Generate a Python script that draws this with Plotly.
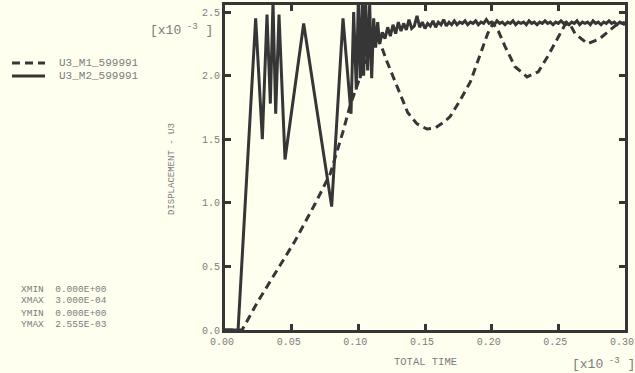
import plotly.graph_objects as go

# ---- data (units: x10^-3) ----
m1_time = [0.000, 0.0128, 0.025, 0.0375, 0.0525, 0.0675, 0.079, 0.0885, 0.094, 0.100,
           0.106, 0.111, 0.114, 0.117, 0.1215, 0.1275, 0.1335, 0.137, 0.144, 0.1515,
           0.158, 0.165, 0.169, 0.176, 0.184, 0.191, 0.197, 0.201, 0.205, 0.210,
           0.2175, 0.2265, 0.235, 0.242, 0.250, 0.255, 0.2585, 0.2625, 0.272, 0.281,
           0.289, 0.296, 0.300]
m1_disp = [0.00, 0.00, 0.23, 0.44, 0.70, 0.99, 1.23, 1.56, 1.77, 1.95,
           2.12, 2.25, 2.29, 2.24, 2.11, 1.95, 1.80, 1.71, 1.62, 1.58,
           1.59, 1.64, 1.68, 1.80, 1.95, 2.15, 2.33, 2.41, 2.35, 2.23,
           2.07, 1.99, 2.03, 2.15, 2.30, 2.40, 2.41, 2.33, 2.25, 2.29,
           2.36, 2.42, 2.40]

m2_time = [0.000, 0.0098, 0.023, 0.028, 0.0315, 0.034, 0.036, 0.038, 0.0405, 0.045,
           0.059, 0.080, 0.0885, 0.0945, 0.0965, 0.0985, 0.100, 0.1015, 0.103, 0.104,
           0.1055, 0.107, 0.1085, 0.110, 0.1115, 0.113, 0.1145,
           0.116, 0.118, 0.120, 0.122, 0.124, 0.126, 0.128, 0.130, 0.132, 0.134,
           0.136, 0.138, 0.140, 0.142, 0.144, 0.146, 0.148, 0.150, 0.152, 0.154,
           0.156, 0.158, 0.160, 0.162, 0.164, 0.166, 0.168, 0.170, 0.172, 0.174,
           0.176, 0.178, 0.180, 0.182, 0.184, 0.186, 0.188, 0.190, 0.192, 0.194,
           0.196, 0.198, 0.200, 0.202, 0.204, 0.206, 0.208, 0.210, 0.212, 0.214,
           0.216, 0.218, 0.220, 0.222, 0.224, 0.226, 0.228, 0.230, 0.232, 0.234,
           0.236, 0.238, 0.240, 0.242, 0.244, 0.246, 0.248, 0.250, 0.252, 0.254,
           0.256, 0.258, 0.260, 0.262, 0.264, 0.266, 0.268, 0.270, 0.272, 0.274,
           0.276, 0.278, 0.280, 0.282, 0.284, 0.286, 0.288, 0.290, 0.292, 0.294,
           0.296, 0.298, 0.300]
m2_disp = [0.00, 0.00, 2.45, 1.50, 2.48, 1.78, 2.58, 1.70, 2.48, 1.34,
           2.41, 0.97, 2.45, 1.70, 2.50, 1.89, 2.60, 1.98, 2.60, 2.00,
           2.60, 2.04, 2.57, 1.98, 2.45, 2.22, 2.42,
           2.25, 2.34, 2.29, 2.38, 2.31, 2.40, 2.33, 2.42, 2.35, 2.41,
           2.36, 2.44, 2.37, 2.39, 2.47, 2.38, 2.42, 2.37, 2.41, 2.39,
           2.43, 2.38, 2.42, 2.40, 2.44, 2.39, 2.42, 2.40, 2.43, 2.40,
           2.42, 2.41, 2.43, 2.40, 2.42, 2.41, 2.43, 2.40, 2.42, 2.41,
           2.44, 2.41, 2.42, 2.40, 2.43, 2.41, 2.42, 2.40, 2.42, 2.41,
           2.43, 2.40, 2.42, 2.41, 2.42, 2.40, 2.43, 2.41, 2.42, 2.40,
           2.42, 2.41, 2.43, 2.41, 2.42, 2.40, 2.42, 2.41, 2.43, 2.41,
           2.42, 2.40, 2.42, 2.41, 2.43, 2.40, 2.42, 2.41, 2.42, 2.40,
           2.43, 2.41, 2.42, 2.40, 2.42, 2.41, 2.43, 2.41, 2.42, 2.40,
           2.42, 2.41, 2.42]

series_names = ["U3_M1_599991", "U3_M2_599991"]
x_ticks = [0.00, 0.05, 0.10, 0.15, 0.20, 0.25, 0.30]
x_tick_labels = ["0.00", "0.05", "0.10", "0.15", "0.20", "0.25", "0.30"]
y_ticks = [0.0, 0.5, 1.0, 1.5, 2.0, 2.5]
y_tick_labels = ["0.0", "0.5", "1.0", "1.5", "2.0", "2.5"]
info_lines = ["XMIN  0.000E+00", "XMAX  3.000E-04", "YMIN  0.000E+00", "YMAX  2.555E-03"]

BG = "#fffff0"
INK = "#363636"
GRAY = "#7c7c7c"
MONO = "Liberation Mono, Courier New, monospace"
DASH = "8px,5px"

fig = go.Figure()
fig.add_trace(go.Scatter(x=m1_time, y=m1_disp, mode="lines", name=series_names[0],
                         line=dict(color=INK, width=3, dash=DASH), showlegend=False))
fig.add_trace(go.Scatter(x=m2_time, y=m2_disp, mode="lines", name=series_names[1],
                         line=dict(color=INK, width=3), showlegend=False))

W, H = 635, 373
L, R, T, B = 225, 10, 5, 43
PW, PH = W - L - R, H - T - B


def px(x):
    return (x - L) / PW


def py(y):
    return (H - B - y) / PH


axis_common = dict(showline=True, linecolor=INK, linewidth=3, mirror="ticks",
                   ticks="inside", ticklen=6, tickwidth=3, tickcolor=INK,
                   showgrid=False, zeroline=False, automargin=False,
                   ticklabeloverflow="allow",
                   tickfont=dict(family=MONO, size=10, color=GRAY))

fig.update_layout(
    width=W, height=H,
    margin=dict(l=L, r=R, t=T, b=B, autoexpand=False),
    paper_bgcolor=BG, plot_bgcolor=BG,
    showlegend=False,
    xaxis=dict(range=[0, 0.3], tickvals=x_ticks, ticktext=x_tick_labels,
               ticklabelshift=-3, **axis_common),
    yaxis=dict(range=[0, 2.555], tickvals=y_ticks, ticktext=y_tick_labels, **axis_common),
)

# legend drawn as key samples + labels
shapes = []
ann = []
for name, dash, yy in zip(series_names, [DASH, "solid"], [63, 76]):
    shapes.append(dict(type="line", xref="paper", yref="paper",
                       x0=px(12), x1=px(45), y0=py(yy), y1=py(yy),
                       line=dict(color=INK, width=3, dash=dash)))
    ann.append(dict(text=name, x=px(57), y=py(yy), xref="paper", yref="paper",
                    xanchor="left", yanchor="middle", showarrow=False,
                    font=dict(family=MONO, size=11, color=GRAY)))

ann.append(dict(text="TOTAL TIME", x=px(425), y=py(362), xref="paper", yref="paper",
                xanchor="center", yanchor="middle",
                showarrow=False, font=dict(family=MONO, size=10.5, color=GRAY)))
ann.append(dict(text="DISPLACEMENT - U3", x=px(172), y=py(169), xref="paper", yref="paper",
                xanchor="center", yanchor="middle",
                textangle=-90, showarrow=False, font=dict(family=MONO, size=9, color=GRAY)))
ann.append(dict(text="[x10<sup> -3</sup> ]", x=px(603), y=py(363), xref="paper", yref="paper",
                xanchor="center", yanchor="middle",
                showarrow=False, font=dict(family=MONO, size=13, color=GRAY)))
ann.append(dict(text="[x10<sup> -3</sup> ]", x=px(181), y=py(29), xref="paper", yref="paper",
                xanchor="center", yanchor="middle",
                showarrow=False, font=dict(family=MONO, size=13, color=GRAY)))
for line, yy in zip(info_lines, [289, 300, 313, 324]):
    ann.append(dict(text=line.replace(" ", "&nbsp;"), x=px(19), y=py(yy), xref="paper", yref="paper",
                    xanchor="left", yanchor="middle",
                    showarrow=False, font=dict(family=MONO, size=9.5, color=GRAY)))
fig.update_layout(annotations=ann, shapes=shapes)

fig.write_html("out.html", config={"displayModeBar": False},
               post_script="document.body.style.margin='0';")
